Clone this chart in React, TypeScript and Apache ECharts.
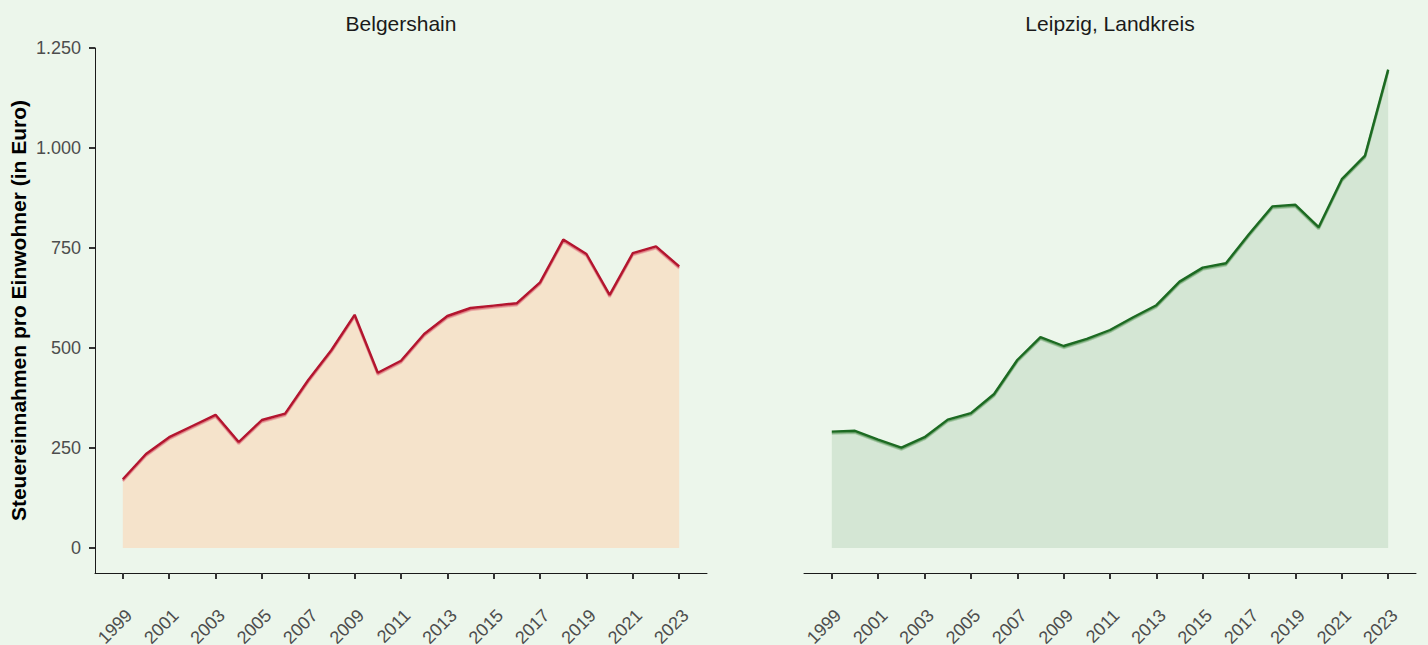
import React, { useEffect, useRef } from "react";
import * as echarts from "echarts";

const years = [1999, 2000, 2001, 2002, 2003, 2004, 2005, 2006, 2007, 2008, 2009, 2010, 2011, 2012, 2013, 2014, 2015, 2016, 2017, 2018, 2019, 2020, 2021, 2022, 2023];
const belgershain = [172, 235, 277, 305, 333, 265, 320, 336, 420, 495, 583, 438, 468, 535, 580, 600, 606, 612, 664, 771, 735, 633, 737, 754, 704];
const leipzig = [291, 293, 271, 251, 277, 321, 337, 385, 470, 527, 505, 523, 545, 577, 607, 666, 701, 712, 785, 854, 858, 802, 922, 981, 1196];
const yTicks = [0, 250, 500, 750, 1000, 1250];
const xTicks = [1999, 2001, 2003, 2005, 2007, 2009, 2011, 2013, 2015, 2017, 2019, 2021, 2023];
const panelTitles = ["Belgershain", "Leipzig, Landkreis"];
const yTitle = "Steuereinnahmen pro Einwohner (in Euro)";

const FONT = '"Liberation Sans", Arial, Helvetica, sans-serif';

const fmtDe = (v: number) => String(v).replace(/\B(?=(\d{3})+(?!\d))/g, ".");

export default function App() {
  const ref = useRef<HTMLDivElement>(null);
  useEffect(() => {
    if (!ref.current) return;
    const chart = echarts.init(ref.current, undefined, { renderer: "svg" });
    const xAxisBase = (gridIndex: number) => ({
      type: "value",
      gridIndex,
      min: 1997.8,
      max: 2024.2,
      axisLine: { show: true, onZero: false, lineStyle: { color: "#1a1a1a", width: 1 } },
      axisTick: { show: true, customValues: xTicks, length: 6, lineStyle: { color: "#333333", width: 2 } },
      axisLabel: {
        show: true,
        customValues: xTicks,
        rotate: 45,
        align: "right",
        verticalAlign: "top",
        margin: 33,
        color: "#4d4d4d",
        fontSize: 18,
        fontFamily: FONT,
        hideOverlap: false,
        formatter: (v: number) => String(v),
      },
      splitLine: { show: false },
    });
    const seriesFor = (idx: number, values: number[], line: string, glow: string, fill: string) => ({
      type: "line",
      xAxisIndex: idx,
      yAxisIndex: idx,
      data: years.map((y, i) => [y, values[i]]),
      symbol: "none",
      lineStyle: { color: line, width: 2.4, shadowColor: glow, shadowBlur: 0, shadowOffsetY: 1.5 },
      areaStyle: { color: fill, opacity: 1, origin: "auto" },
      z: 2,
    });
    chart.setOption({
      animation: false,
      backgroundColor: "#ecf6eb",
      textStyle: { fontFamily: FONT },
      grid: [
        { left: 95, top: 48, width: 612, height: 525, outerBoundsMode: "none", containLabel: false },
        { left: 804, top: 48, width: 612, height: 525, outerBoundsMode: "none", containLabel: false },
      ],
      xAxis: [xAxisBase(0), xAxisBase(1)],
      yAxis: [
        {
          type: "value",
          gridIndex: 0,
          min: -62.5,
          max: 1250,
          axisLine: { show: true, lineStyle: { color: "#1a1a1a", width: 1 } },
          axisTick: { show: true, customValues: yTicks, length: 6, lineStyle: { color: "#333333", width: 2 } },
          axisLabel: {
            show: true,
            customValues: yTicks,
            margin: 14,
            color: "#4d4d4d",
            fontSize: 18,
            fontFamily: FONT,
            formatter: (v: number) => fmtDe(v),
          },
          splitLine: { show: false },
          name: yTitle,
          nameLocation: "middle",
          nameRotate: 90,
          nameGap: 66,
          nameTextStyle: { fontSize: 21, fontWeight: "bold", color: "#000000", fontFamily: FONT },
        },
        {
          type: "value",
          gridIndex: 1,
          min: -62.5,
          max: 1250,
          show: false,
          splitLine: { show: false },
        },
      ],
      graphic: [
        {
          type: "text",
          x: 401,
          y: 23,
          style: { text: panelTitles[0], fill: "#1a1a1a", font: `21px ${FONT}`, textAlign: "center", textVerticalAlign: "middle" },
        },
        {
          type: "text",
          x: 1110,
          y: 23,
          style: { text: panelTitles[1], fill: "#1a1a1a", font: `21px ${FONT}`, textAlign: "center", textVerticalAlign: "middle" },
        },
      ],
      series: [
        seriesFor(0, belgershain, "#b3122e", "rgba(214,80,100,0.75)", "#f5e3cb"),
        seriesFor(1, leipzig, "#1b6a21", "rgba(70,140,70,0.7)", "#d4e6d4"),
      ],
    });
    return () => chart.dispose();
  }, []);
  return <div ref={ref} style={{ position: "absolute", left: 0, top: 0, width: 1428, height: 645 }} />;
}
